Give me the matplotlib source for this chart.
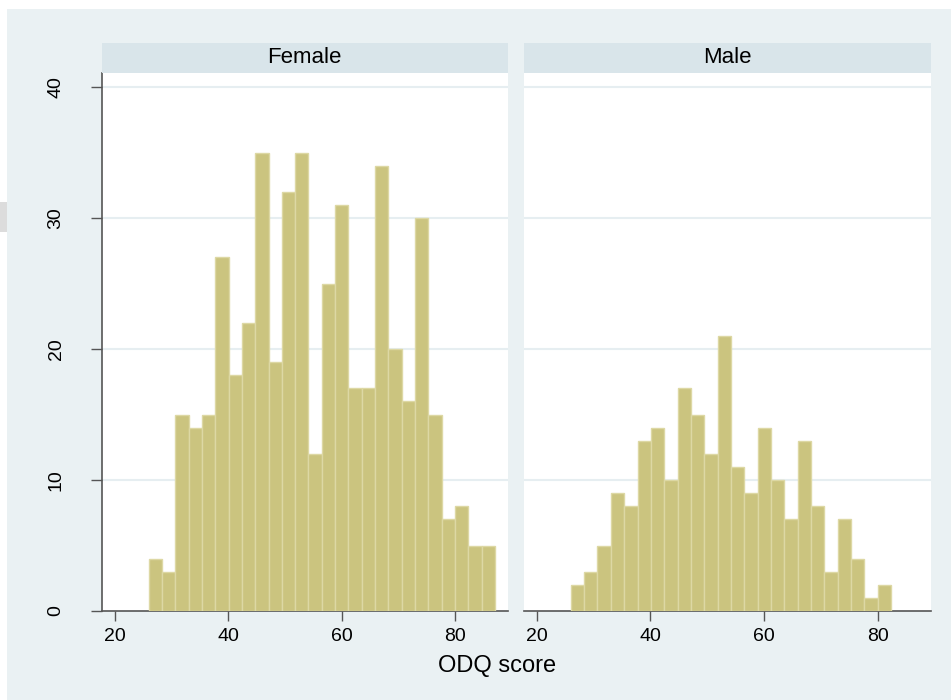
import matplotlib
matplotlib.use("Agg")
import matplotlib.pyplot as plt
import numpy as np

# ---- data ----
panels = ["Female", "Male"]
bin_start = 26.0
bin_width = 61.0 / 26
female_counts = [4, 3, 15, 14, 15, 27, 18, 22, 35, 19, 32, 35, 12, 25, 31, 17, 17, 34, 20, 16, 30, 15, 7, 8, 5, 5]
male_counts = [2, 3, 5, 9, 8, 13, 14, 10, 17, 15, 12, 21, 11, 9, 14, 10, 7, 13, 8, 3, 7, 4, 1, 2]
x_ticks = [20, 40, 60, 80]
y_ticks = [0, 10, 20, 30, 40]
x_label = "ODQ score"

plt.rcParams['font.family'] = ["Liberation Sans", "DejaVu Sans"]

W, H = 951, 700
fig = plt.figure(figsize=(W / 100, H / 100), dpi=100)
fig.patch.set_facecolor("white")

bg = "#eaf1f3"
strip_c = "#d9e5ea"
bar_c = "#cbc47f"
edge_c = "#ddd8a4"
axis_c = "#555555"

# background panel (white margin at top and left)
fig.add_artist(plt.Rectangle((7 / W, 0), 1 - 7 / W, 1 - 9 / H, transform=fig.transFigure,
                             facecolor=bg, edgecolor="none", zorder=-10))
fig.add_artist(plt.Rectangle((0, 1 - 232 / H), 7 / W, 30 / H, transform=fig.transFigure,
                             facecolor="#dcdcdc", edgecolor="none", zorder=-10))

bottom = 1 - 611 / H
height = (611 - 72.7) / H
lefts = [101.5 / W, 523.5 / W]
widths = [406.5 / W, 407.5 / W]
strip_h = 30 / H

data = [female_counts, male_counts]
for i, (name, counts) in enumerate(zip(panels, data)):
    ax = fig.add_axes([lefts[i], bottom, widths[i], height])
    ax.set_facecolor("white")
    edges = bin_start + bin_width * np.arange(len(counts))
    ax.bar(edges, counts, width=bin_width, align="edge", color=bar_c,
           edgecolor=edge_c, linewidth=1.0, zorder=3)
    ax.set_xlim(17.7, 89.3)
    ax.set_ylim(0, 41.1)
    ax.set_yticks(y_ticks)
    for y in y_ticks[1:]:
        ax.axhline(y, color="#e6eef1", linewidth=1.5, zorder=1)
    ax.set_xticks(x_ticks)
    ax.set_xticklabels([str(t) for t in x_ticks], fontsize=14)
    ax.tick_params(axis="x", length=7, width=1, color=axis_c, pad=5)
    for s in ["top", "right"]:
        ax.spines[s].set_visible(False)
    ax.spines["bottom"].set_color(axis_c)
    ax.spines["bottom"].set_linewidth(1.2)
    if i == 0:
        ax.spines["left"].set_color(axis_c)
        ax.spines["left"].set_linewidth(1.2)
        ax.set_yticklabels([str(t) for t in y_ticks], fontsize=14, rotation=90, va="center")
        ax.tick_params(axis="y", length=8, width=1, color=axis_c, pad=18.5)
    else:
        ax.spines["left"].set_visible(False)
        ax.tick_params(axis="y", length=0, labelleft=False)
    # strip
    sax = fig.add_axes([lefts[i], bottom + height, widths[i], strip_h])
    sax.set_facecolor(strip_c)
    sax.set_xticks([]); sax.set_yticks([])
    for s in sax.spines.values():
        s.set_visible(False)
    sax.text(0.5, 0.5, name, ha="center", va="center", fontsize=16, transform=sax.transAxes)

fig.text(497 / W, 1 - 666 / H, x_label, ha="center", va="center", fontsize=17)

fig.savefig("out.png", dpi=100, facecolor=fig.get_facecolor())
